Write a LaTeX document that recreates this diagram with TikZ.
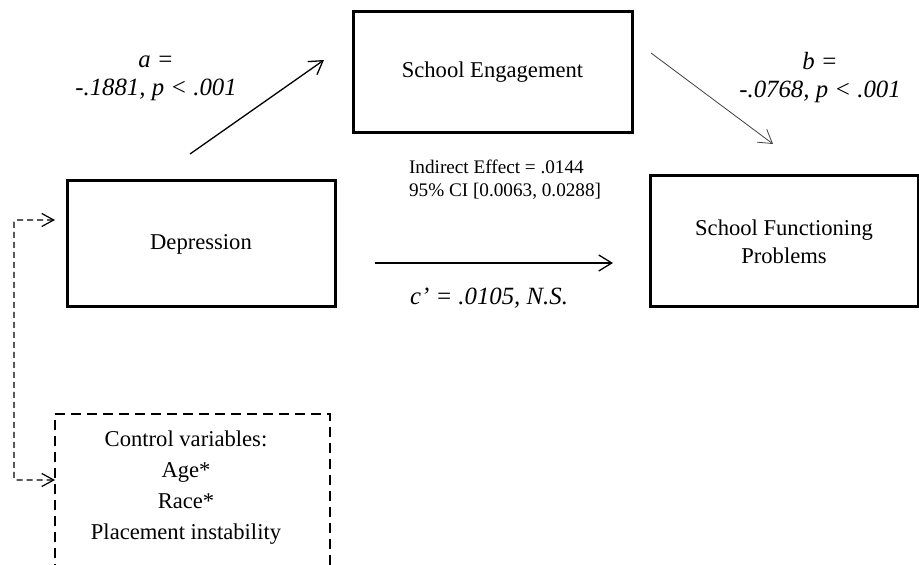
\documentclass[tikz,border=0pt]{standalone}
\usepackage{fontspec}
\setmainfont{Liberation Serif}
\usetikzlibrary{arrows.meta}

\begin{document}
\begin{tikzpicture}[x=0.5pt,y=-0.5pt,
    varbox/.style={draw,line width=1.5pt,inner sep=0pt,align=center,
      font=\fontsize{11.3}{14}\selectfont},
    effarrow/.style={line width=0.65pt,-{Straight Barb[length=6.5pt,width=8pt]}},
    ctrlarrow/.style={line width=0.6pt,dash pattern=on 3pt off 2pt,rounded corners=1pt,
      {Straight Barb[length=6pt,width=6.5pt]}-{Straight Barb[length=6pt,width=6.5pt]}},
    coef/.style={font=\itshape\fontsize{12.4}{14}\selectfont,align=center}]
       \useasboundingbox (0,0) rectangle (919,565);
       \node[varbox,minimum width=134pt,minimum height=63pt] (dep) at (201,244) {Depression};
       \node[varbox,minimum width=139.5pt,minimum height=60.5pt] (eng) at (492.5,72.5) {School Engagement};
       \node[varbox,minimum width=134pt,minimum height=65.5pt] (func) at (784,241.5) {School Functioning\\Problems};
       \node[draw,line width=0.75pt,dash pattern=on 5pt off 3pt,inner sep=0pt,
             minimum width=137.5pt,minimum height=90pt] (ctrl) at (192.5,504) {};
       \node[font=\fontsize{11.3}{15.5}\selectfont,align=center] (ctrltext) at (186,488)
             {Control variables:\\Age*\\Race*\\Placement instability};
       \coordinate (a0) at (190,154);
       \coordinate (a1) at (324,60);
       \coordinate (b0) at (651,53);
       \coordinate (b1) at (773,144);
       \coordinate (c0) at (375,263);
       \coordinate (c1) at (613,263);
       \coordinate (d0) at (55,220);
       \coordinate (d1) at (55,480);
       \draw[effarrow] (a0) -- (a1);
       \draw[effarrow,line width=0.4pt,black!75] (b0) -- (b1);
       \draw[effarrow] (c0) -- (c1);
       \draw[ctrlarrow] (d0) -- ++(-41,0) |- (d1);
       \node[coef] (alab) at (156,78) {a =\\-.1881, p < .001};
       \node[coef] (blab) at (820,78) {b =\\-.0768, p < .001};
       \node[coef,anchor=base] (clab) at (489,305) {c’ = .0105, N.S.};
       \node[font=\fontsize{9.6}{11.5}\selectfont,align=left,anchor=west] (ind) at (402,180)
             {Indirect Effect = .0144\\95\% CI [0.0063, 0.0288]};
      \end{tikzpicture}
\end{document}
